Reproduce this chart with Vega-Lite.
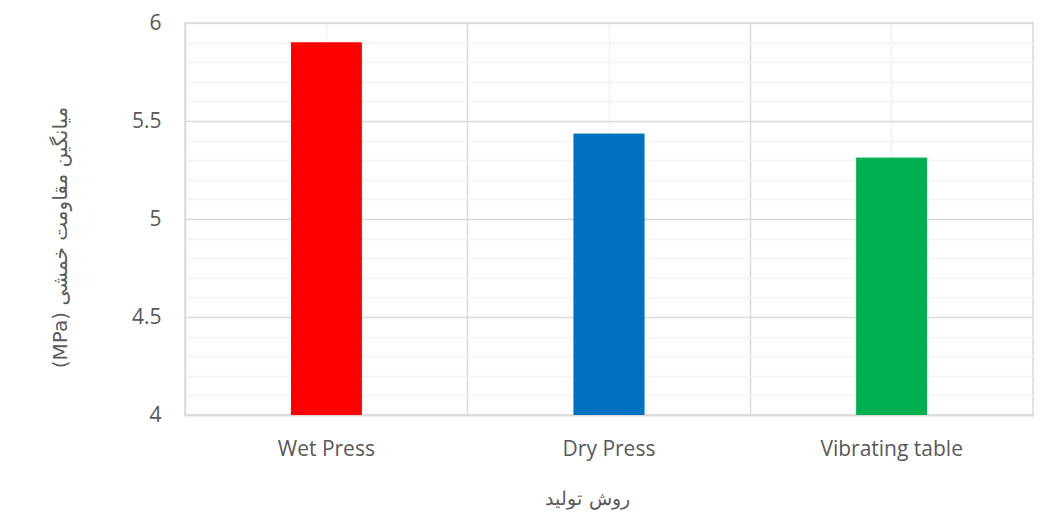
{
  "$schema": "https://vega.github.io/schema/vega-lite/v6.json",
  "autosize": {"type": "none"},
  "width": 848,
  "height": 392,
  "padding": {"left": 185, "top": 23, "right": 26, "bottom": 100},
  "background": "white",
  "config": {
    "view": {"stroke": "#d9d9d9", "strokeWidth": 1.5},
    "axis": {"labelFont": "Open Sans", "labelColor": "#595959", "titleColor": "#595959", "ticks": false}
  },
  "data": {"values": [
    {"method": "Wet Press", "value": 5.9},
    {"method": "Dry Press", "value": 5.435},
    {"method": "Vibrating table", "value": 5.313}
  ]},
  "layer": [
    {
      "mark": {"type": "bar", "width": {"band": 0.25}, "clip": true},
      "encoding": {
        "x": {"field": "method", "type": "nominal", "sort": null,
          "scale": {"paddingInner": 0, "paddingOuter": 0},
          "axis": {"orient": "top", "labels": false, "domain": false, "title": null, "grid": true, "bandPosition": 0.5, "gridColor": "#f2f2f2", "gridWidth": 1.5}},
        "y": {"field": "value", "type": "quantitative",
          "scale": {"domain": [4, 6], "zero": false, "nice": false},
          "axis": {"orient": "right", "labels": false, "domain": false, "title": null, "grid": true, "gridColor": "#f2f2f2", "gridWidth": 1.5,
            "values": [4.1, 4.2, 4.3, 4.4, 4.6, 4.7, 4.8, 4.9, 5.1, 5.2, 5.3, 5.4, 5.6, 5.7, 5.8, 5.9]}},
        "color": {"field": "method", "type": "nominal", "sort": null, "legend": null,
          "scale": {"domain": ["Wet Press", "Dry Press", "Vibrating table"], "range": ["#ff0000", "#0070c0", "#00b050"]}}
      }
    },
    {
      "mark": {"type": "bar", "width": {"band": 0.25}, "clip": true},
      "encoding": {
        "x": {"field": "method", "type": "nominal", "sort": null,
          "axis": {"orient": "bottom", "labelAngle": 0, "labelFontSize": 21, "labelPadding": 23,
            "domain": true, "domainColor": "#d9d9d9", "domainWidth": 1.5,
            "grid": true, "bandPosition": 0, "gridColor": "#d9d9d9", "gridWidth": 1.5,
            "title": "روش تولید", "titleFont": "DejaVu Serif", "titleFontSize": 19, "titleFontWeight": "normal",
            "titleX": 402, "titleY": 83, "titleBaseline": "middle", "titleAlign": "center"}},
        "y": {"field": "value", "type": "quantitative",
          "axis": {"orient": "left", "values": [4, 4.5, 5, 5.5, 6], "labelExpr": "datum.value", "labelFontSize": 21, "labelPadding": 24,
            "domain": false, "grid": true, "gridColor": "#d9d9d9", "gridWidth": 1.5,
            "title": "(MPa) میانگین مقاومت خمشی", "titleFont": "DejaVu Sans", "titleFontSize": 20, "titleFontWeight": "normal",
            "titleAngle": -90, "titleX": -125, "titleY": 214, "titleBaseline": "middle", "titleAlign": "center"}},
        "color": {"field": "method", "type": "nominal", "sort": null, "legend": null}
      }
    }
  ],
  "resolve": {"axis": {"x": "independent", "y": "independent"}}
}
